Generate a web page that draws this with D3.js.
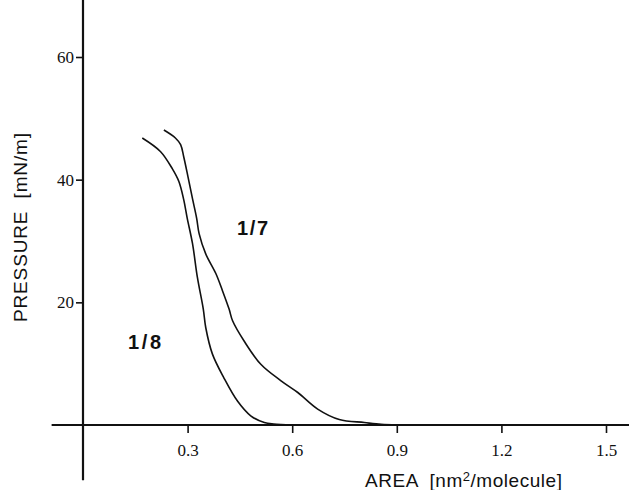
<!DOCTYPE html>
<html lang="en">
<head>
  <meta charset="UTF-8">
  <title>Pressure - Area Isotherms</title>
  <script src="https://d3js.org/d3.v7.min.js"></script>
  <style>
    body { margin: 0; background: #fff; }
    .tick text { font-family: "Liberation Serif", serif; font-size: 17px; fill: #111; }
    .tick line { stroke: #111; stroke-width: 1.6px; }
    .axis-line { stroke: #111; stroke-width: 2.2px; }
    .curve { fill: none; stroke: #111; stroke-width: 1.6px; }
    .title { font-family: "Liberation Sans", Arial, sans-serif; font-size: 19px; fill: #111; white-space: pre; }
    .curve-label { font-family: "Liberation Sans", Arial, sans-serif; font-size: 20px; font-weight: bold; fill: #111; }
  </style>
</head>
<body>
  <svg id="chart" width="629" height="490"></svg>
  <script>
    // tick values
    const xTicks = [0.3, 0.6, 0.9, 1.2, 1.5];
    const yTicks = [20, 40, 60];

    // 1/8 isotherm (area nm2/molecule, pressure mN/m)
    const area18 = [0.170, 0.222, 0.256, 0.275, 0.289, 0.299, 0.314, 0.328, 0.345, 0.352, 0.371, 0.404, 0.443, 0.481, 0.520, 0.547, 0.60];
    const press18 = [46.8, 44.6, 41.8, 39.7, 36.7, 33.7, 29.6, 24.1, 18.9, 15.9, 11.6, 7.7, 3.9, 1.5, 0.4, 0.15, 0.0];

    // 1/7 isotherm
    const area17 = [0.232, 0.265, 0.280, 0.289, 0.301, 0.314, 0.326, 0.333, 0.352, 0.381, 0.400, 0.419, 0.429, 0.462, 0.510, 0.568, 0.616, 0.673, 0.735, 0.807, 0.855, 0.90];
    const press17 = [48.1, 46.8, 45.7, 43.7, 40.5, 36.9, 33.7, 31.2, 27.9, 24.7, 21.9, 18.9, 17.0, 13.7, 9.9, 7.2, 5.3, 2.6, 0.9, 0.4, 0.1, 0.0];

    const svg = d3.select("#chart");

    const x = d3.scaleLinear().domain([0, 1.5]).range([83, 606]);
    const y = d3.scaleLinear().domain([0, 60]).range([425, 57]);

    // axis lines (drawn through the origin, like the original figure)
    svg.append("line").attr("class", "axis-line")
      .attr("x1", x(-0.09)).attr("x2", 629)
      .attr("y1", y(0)).attr("y2", y(0));
    svg.append("line").attr("class", "axis-line")
      .attr("x1", x(0)).attr("x2", x(0))
      .attr("y1", y(70.4)).attr("y2", y(-9.0));

    // ticks
    const xAxis = svg.append("g")
      .attr("transform", `translate(0,${y(0)})`)
      .call(d3.axisBottom(x).tickValues(xTicks).tickSize(8).tickPadding(11).tickFormat(d3.format(".1f")));
    xAxis.select(".domain").remove();

    const yAxis = svg.append("g")
      .attr("transform", `translate(${x(0)},0)`)
      .call(d3.axisLeft(y).tickValues(yTicks).tickSize(7).tickPadding(2));
    yAxis.select(".domain").remove();

    // curves
    const line = d3.line()
      .x(d => x(d[0]))
      .y(d => y(d[1]))
      .curve(d3.curveCatmullRom.alpha(0.5));

    svg.append("path").attr("class", "curve")
      .attr("d", line(d3.zip(area18, press18)));
    svg.append("path").attr("class", "curve")
      .attr("d", line(d3.zip(area17, press17)));

    // curve labels
    svg.append("text").attr("class", "curve-label")
      .attr("x", 237).attr("y", 235)
      .attr("textLength", 31).attr("lengthAdjust", "spacing")
      .text("1/7");
    svg.append("text").attr("class", "curve-label")
      .attr("x", 128).attr("y", 349)
      .attr("textLength", 33).attr("lengthAdjust", "spacing")
      .text("1/8");

    // axis titles
    const xTitle = svg.append("text").attr("class", "title")
      .attr("x", 365).attr("y", 487)
      .attr("textLength", 197).attr("lengthAdjust", "spacing");
    xTitle.append("tspan").text("AREA  [nm");
    xTitle.append("tspan").attr("dy", -6).style("font-size", "13px").text("2");
    xTitle.append("tspan").attr("dy", 6).text("/molecule]");

    svg.append("text").attr("class", "title")
      .attr("transform", "translate(27,322) rotate(-90)")
      .attr("textLength", 189).attr("lengthAdjust", "spacing")
      .text("PRESSURE  [mN/m]");
  </script>
</body>
</html>
